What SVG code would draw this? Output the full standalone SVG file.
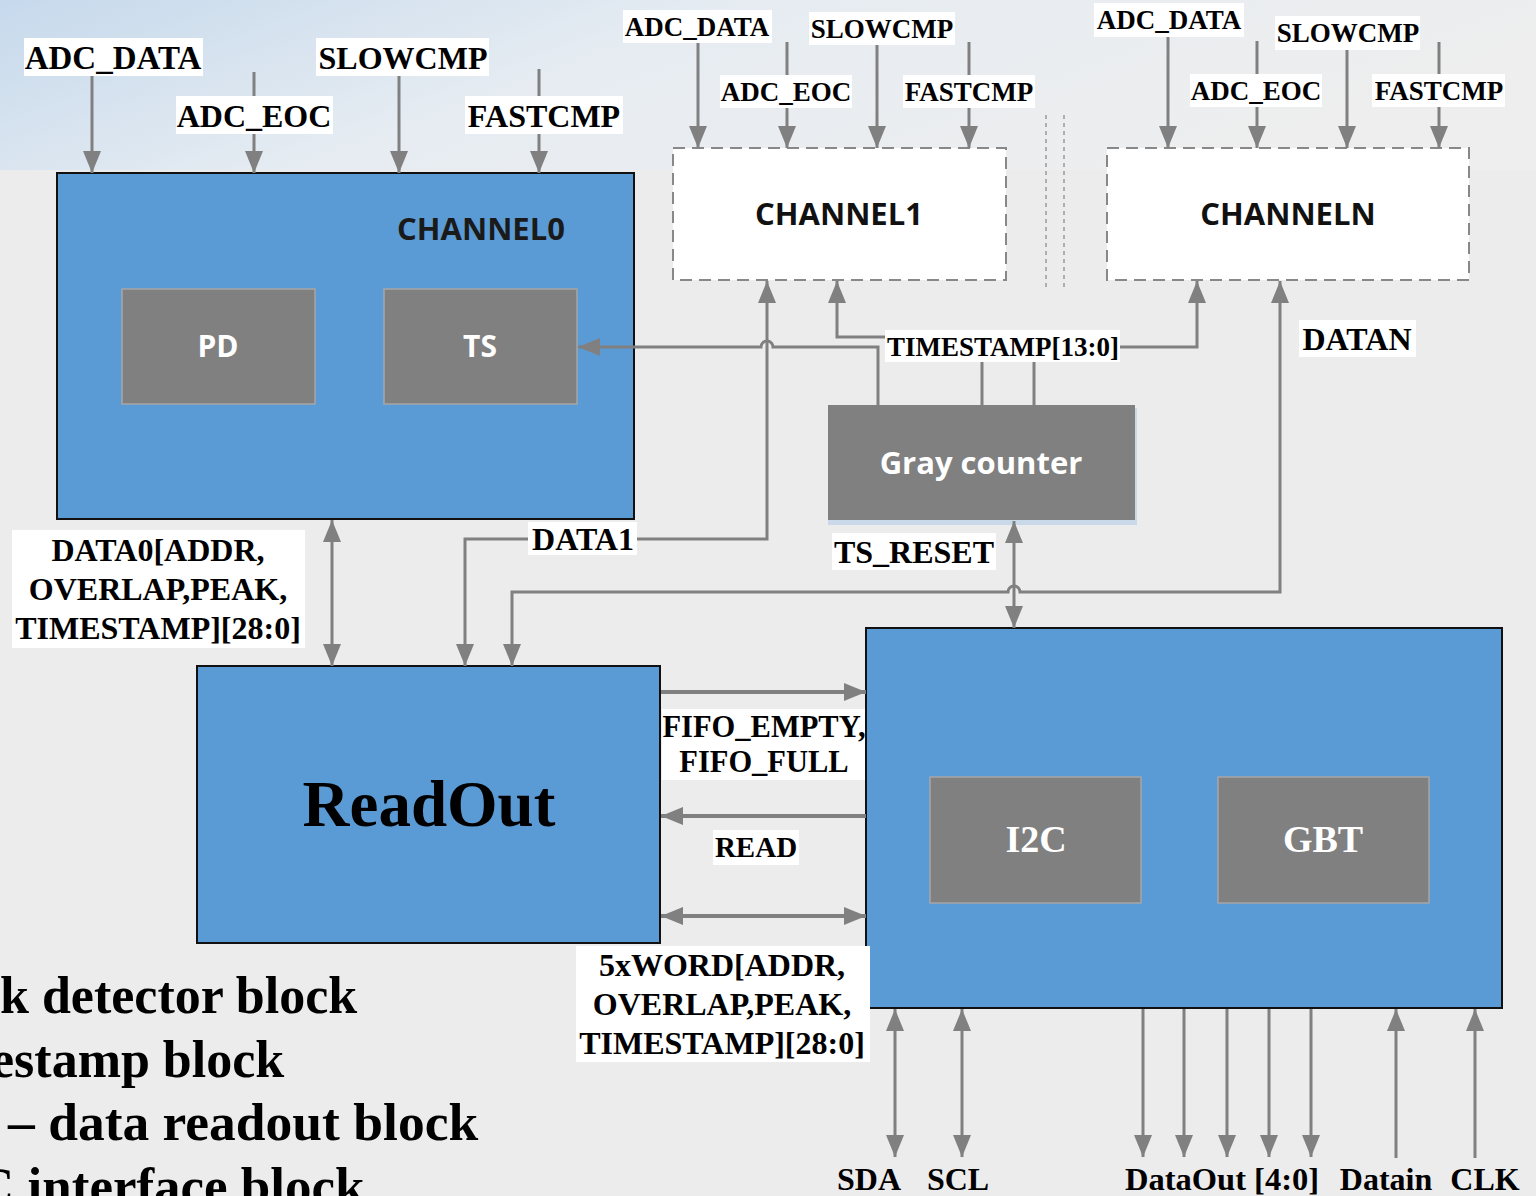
<svg xmlns="http://www.w3.org/2000/svg" width="1536" height="1196" viewBox="0 0 1536 1196">
<style>
.ln{fill:none;stroke:#808080;stroke-width:3}
.thk{stroke-width:4}
.lbl{fill:#fff}
.t{font-family:"Liberation Serif","Times New Roman",serif;font-weight:bold;fill:#000}
.w{fill:#fff}
.s{font-family:"Open Sans","Noto Sans",sans-serif;font-weight:bold}
.blue{fill:#5b9bd5;stroke:#111;stroke-width:2}
.gray{fill:#808080;stroke:#a6a6a6;stroke-width:1.5}
.dash{fill:#fff;stroke:#888;stroke-width:2;stroke-dasharray:12 7}
</style>
<defs>
<linearGradient id="bg" x1="0" y1="0" x2="1" y2="0.3">
<stop offset="0" stop-color="#c6d9ec"/>
<stop offset="0.45" stop-color="#e6ecf2"/>
<stop offset="1" stop-color="#eeeeee"/>
</linearGradient>
<marker id="ah" viewBox="0 0 22 18" refX="22" refY="9" markerWidth="22" markerHeight="18" markerUnits="userSpaceOnUse" orient="auto-start-reverse">
<path d="M0,0 L22,9 L0,18 z" fill="#808080"/>
</marker>
</defs>
<rect x="0" y="0" width="1536" height="1196" fill="#ececec"/>
<rect x="0" y="0" width="1536" height="170" fill="url(#bg)"/>
<g id="dots">
<line x1="1046" y1="115" x2="1046" y2="290" stroke="#999" stroke-width="1.5" stroke-dasharray="4 4"/>
<line x1="1064" y1="115" x2="1064" y2="290" stroke="#999" stroke-width="1.5" stroke-dasharray="4 4"/>
</g>
<g id="channel0">
<rect class="blue" x="57" y="173" width="577" height="346"/>
<text class="s" x="481" y="240" font-size="31" text-anchor="middle" fill="#1a1a1a">CHANNEL0</text>
</g>
<g id="pd">
<rect class="gray" x="122" y="289" width="193" height="115"/>
<text class="s" x="218" y="357" font-size="30" text-anchor="middle" fill="#fff">PD</text>
</g>
<g id="ts">
<rect class="gray" x="384" y="289" width="193" height="115"/>
<text class="s" x="480" y="357" font-size="30" text-anchor="middle" fill="#fff">TS</text>
</g>
<g id="channel1">
<rect class="dash" x="673" y="148" width="333" height="132"/>
<text class="s" x="839" y="225" font-size="31" text-anchor="middle" fill="#111">CHANNEL1</text>
</g>
<g id="channelN">
<rect class="dash" x="1107" y="148" width="362" height="132"/>
<text class="s" x="1288" y="225" font-size="31" text-anchor="middle" fill="#111">CHANNELN</text>
</g>
<g id="graycounter">
<rect x="828" y="408" width="309" height="117" fill="#c9d9ea"/>
<rect x="828" y="405" width="307" height="115" fill="#808080"/>
<text class="s" x="981" y="474" font-size="31" text-anchor="middle" fill="#fff">Gray counter</text>
</g>
<g id="readout">
<rect class="blue" x="197" y="666" width="463" height="277"/>
<text class="t" x="429" y="826" font-size="65" text-anchor="middle">ReadOut</text>
</g>
<g id="interface">
<rect class="blue" x="866" y="628" width="636" height="380"/>
</g>
<g id="i2c">
<rect class="gray" x="930" y="777" width="211" height="126" stroke="#333"/>
<text class="t w" x="1036" y="852" font-size="38" text-anchor="middle">I2C</text>
</g>
<g id="gbt">
<rect class="gray" x="1218" y="777" width="211" height="126" stroke="#333"/>
<text class="t w" x="1323" y="852" font-size="38" text-anchor="middle">GBT</text>
</g>
<g id="connectors">
<path class="ln" d="M92,76 V173" marker-end="url(#ah)"/>
<path class="ln" d="M254,72 V173" marker-end="url(#ah)"/>
<path class="ln" d="M399,76 V173" marker-end="url(#ah)"/>
<path class="ln" d="M539,69 V173" marker-end="url(#ah)"/>
<path class="ln" d="M698,43 V148" marker-end="url(#ah)"/>
<path class="ln" d="M787,42 V148" marker-end="url(#ah)"/>
<path class="ln" d="M877,45 V148" marker-end="url(#ah)"/>
<path class="ln" d="M969,42 V148" marker-end="url(#ah)"/>
<path class="ln" d="M1168,37 V148" marker-end="url(#ah)"/>
<path class="ln" d="M1257,41 V148" marker-end="url(#ah)"/>
<path class="ln" d="M1347,50 V148" marker-end="url(#ah)"/>
<path class="ln" d="M1439,42 V148" marker-end="url(#ah)"/>
<path class="ln" d="M878,405 V347 H773 A6,6 0 0 0 761,347 H578" marker-end="url(#ah)"/>
<path class="ln" d="M886,337 H837 V281" marker-end="url(#ah)"/>
<path class="ln" d="M1120,347 H1197 V281" marker-end="url(#ah)"/>
<path class="ln" d="M982,362 V405 M1034,362 V405"/>
<path class="ln" d="M767,281 V539 H465 V666" marker-start="url(#ah)" marker-end="url(#ah)"/>
<path class="ln" d="M1280,281 V592 H1020 A6,6 0 0 0 1008,592 H512 V666" marker-start="url(#ah)" marker-end="url(#ah)"/>
<path class="ln" d="M1014,521 V628" marker-start="url(#ah)" marker-end="url(#ah)"/>
<path class="ln" d="M332,520 V666" marker-start="url(#ah)" marker-end="url(#ah)"/>
<path class="ln thk" d="M661,692 H866" marker-end="url(#ah)"/>
<path class="ln thk" d="M866,816 H661" marker-end="url(#ah)"/>
<path class="ln thk" d="M661,916 H866" marker-start="url(#ah)" marker-end="url(#ah)"/>
<path class="ln" d="M895,1009 V1157" marker-start="url(#ah)" marker-end="url(#ah)"/>
<path class="ln" d="M962,1009 V1157" marker-start="url(#ah)" marker-end="url(#ah)"/>
<path class="ln" d="M1143,1009 V1157" marker-end="url(#ah)"/>
<path class="ln" d="M1184,1009 V1157" marker-end="url(#ah)"/>
<path class="ln" d="M1227,1009 V1157" marker-end="url(#ah)"/>
<path class="ln" d="M1269,1009 V1157" marker-end="url(#ah)"/>
<path class="ln" d="M1311,1009 V1157" marker-end="url(#ah)"/>
<path class="ln" d="M1396,1158 V1009" marker-end="url(#ah)"/>
<path class="ln" d="M1475,1158 V1009" marker-end="url(#ah)"/>
</g>
<g id="labels">
<rect class="lbl" x="24" y="38" width="179" height="38"/>
<text class="t" x="113" y="69" font-size="33" text-anchor="middle">ADC_DATA</text>
<rect class="lbl" x="176" y="96" width="157" height="38"/>
<text class="t" x="254" y="127" font-size="32" text-anchor="middle">ADC_EOC</text>
<rect class="lbl" x="316" y="38" width="173" height="38"/>
<text class="t" x="403" y="69" font-size="32" text-anchor="middle">SLOWCMP</text>
<rect class="lbl" x="465" y="96" width="158" height="38"/>
<text class="t" x="544" y="127" font-size="32" text-anchor="middle">FASTCMP</text>

<rect class="lbl" x="623" y="10" width="149" height="33"/>
<text class="t" x="697" y="36" font-size="27" text-anchor="middle">ADC_DATA</text>
<rect class="lbl" x="720" y="75" width="132" height="33"/>
<text class="t" x="786" y="101" font-size="27" text-anchor="middle">ADC_EOC</text>
<rect class="lbl" x="809" y="12" width="146" height="33"/>
<text class="t" x="882" y="38" font-size="27" text-anchor="middle">SLOWCMP</text>
<rect class="lbl" x="903" y="75" width="132" height="33"/>
<text class="t" x="969" y="101" font-size="27" text-anchor="middle">FASTCMP</text>

<rect class="lbl" x="1094" y="3" width="150" height="34"/>
<text class="t" x="1169" y="29" font-size="27" text-anchor="middle">ADC_DATA</text>
<rect class="lbl" x="1190" y="74" width="132" height="33"/>
<text class="t" x="1256" y="100" font-size="27" text-anchor="middle">ADC_EOC</text>
<rect class="lbl" x="1275" y="16" width="145" height="34"/>
<text class="t" x="1348" y="42" font-size="27" text-anchor="middle">SLOWCMP</text>
<rect class="lbl" x="1372" y="74" width="133" height="33"/>
<text class="t" x="1439" y="100" font-size="27" text-anchor="middle">FASTCMP</text>

<rect class="lbl" x="885" y="330" width="235" height="32"/>
<text class="t" x="1003" y="356" font-size="27" text-anchor="middle">TIMESTAMP[13:0]</text>
<rect class="lbl" x="1299" y="320" width="117" height="37"/>
<text class="t" x="1357" y="350" font-size="32" text-anchor="middle">DATAN</text>
<rect class="lbl" x="528" y="522" width="109" height="33"/>
<text class="t" x="583" y="550" font-size="32" text-anchor="middle">DATA1</text>
<rect class="lbl" x="832" y="533" width="164" height="37"/>
<text class="t" x="914" y="563" font-size="32" text-anchor="middle">TS_RESET</text>

<rect class="lbl" x="12" y="530" width="293" height="118"/>
<text class="t" font-size="32" text-anchor="middle"><tspan x="158" y="561">DATA0[ADDR,</tspan><tspan x="158" y="600">OVERLAP,PEAK,</tspan><tspan x="158" y="639">TIMESTAMP][28:0]</tspan></text>

<rect class="lbl" x="662" y="709" width="203" height="71"/>
<text class="t" font-size="30.5" text-anchor="middle"><tspan x="764" y="737">FIFO_EMPTY,</tspan><tspan x="764" y="772">FIFO_FULL</tspan></text>
<rect class="lbl" x="713" y="830" width="86" height="35"/>
<text class="t" x="756" y="857" font-size="29" text-anchor="middle">READ</text>

<rect class="lbl" x="576" y="946" width="294" height="116"/>
<text class="t" font-size="32" text-anchor="middle"><tspan x="722" y="976">5xWORD[ADDR,</tspan><tspan x="722" y="1015">OVERLAP,PEAK,</tspan><tspan x="722" y="1054">TIMESTAMP][28:0]</tspan></text>

<text class="t" x="869" y="1190" font-size="32" text-anchor="middle">SDA</text>
<text class="t" x="958" y="1190" font-size="32" text-anchor="middle">SCL</text>
<text class="t" x="1125" y="1190" font-size="32.5">DataOut [4:0]</text>
<text class="t" x="1386" y="1190" font-size="32" text-anchor="middle">Datain</text>
<text class="t" x="1485" y="1190" font-size="32" text-anchor="middle">CLK</text>
</g>
<g id="legend">
<text class="t" x="0" y="1013" font-size="52">k detector block</text>
<text class="t" x="-9" y="1077" font-size="52">estamp block</text>
<text class="t" x="8" y="1140" font-size="53.5">– data readout block</text>
<text class="t" x="-24" y="1204" font-size="53">C interface block</text>
</g>
</svg>
